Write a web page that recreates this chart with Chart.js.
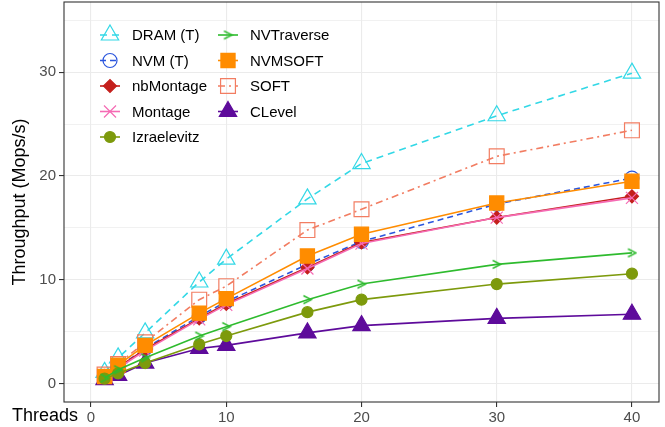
<!DOCTYPE html>
<html>
<head>
<meta charset="utf-8">
<script src="https://cdn.jsdelivr.net/npm/chart.js@4"></script>
<style>
  html, body { margin: 0; padding: 0; background: #fff; }
  #wrap { width: 665px; height: 427px; position: relative; }
</style>
</head>
<body>
<div id="wrap"><canvas id="chart"></canvas></div>
<script>
// data
const threads = [1, 2, 4, 8, 10, 16, 20, 30, 40];
const dramT = [1.1, 2.5, 4.9, 9.8, 12.0, 17.8, 21.2, 25.8, 29.9];
const nvmT = [0.7, 1.6, 3.4, 6.5, 7.9, 11.5, 13.7, 17.3, 19.8];
const nbMontage = [0.7, 1.6, 3.3, 6.3, 7.7, 11.2, 13.6, 16.0, 18.05];
const montage = [0.65, 1.5, 3.2, 6.2, 7.6, 11.1, 13.5, 16.0, 17.9];
const izraelevitz = [0.5, 1.0, 2.0, 3.8, 4.6, 6.9, 8.1, 9.6, 10.6];
const nvTraverse = [0.55, 1.35, 2.5, 4.6, 5.5, 8.1, 9.6, 11.5, 12.6];
const nvmSoft = [0.7, 1.8, 3.7, 6.8, 8.2, 12.3, 14.4, 17.4, 19.5];
const soft = [0.9, 1.9, 4.0, 8.1, 9.4, 14.8, 16.8, 21.9, 24.4];
const cLevel = [0.4, 0.8, 2.0, 3.4, 3.7, 4.9, 5.6, 6.3, 6.7];

const xTicks = [0, 10, 20, 30, 40];
const yTicks = [0, 10, 20, 30];
const yMinor = [5, 15, 25, 35];

// ">" marker for NVTraverse
function chevron(color) {
  const c = document.createElement("canvas");
  c.width = 11;
  c.height = 11;
  const g = c.getContext("2d");
  g.strokeStyle = color;
  g.lineWidth = 1.4;
  g.beginPath();
  g.moveTo(1.5, 1.5);
  g.lineTo(9.5, 5.5);
  g.lineTo(1.5, 9.5);
  g.stroke();
  return c;
}

const none = "rgba(0,0,0,0)";

function series(label, data, color, opts) {
  return Object.assign({
    label: label,
    data: threads.map((t, i) => ({ x: t, y: data[i] })),
    borderColor: color,
    backgroundColor: color,
    borderWidth: 1.6,
    pointBorderColor: color,
    pointBackgroundColor: color,
    pointBorderWidth: 1.2,
    tension: 0,
    fill: false,
  }, opts);
}

const datasets = [
  series("DRAM (T)", dramT, "#33D8E6", { borderDash: [7, 5], pointStyle: "triangle", pointRadius: 10, pointBackgroundColor: none, order: 8 }),
  series("NVM (T)", nvmT, "#2A55DD", { borderDash: [6, 4], pointStyle: "circle", pointRadius: 7, pointBackgroundColor: none, order: 5 }),
  series("nbMontage", nbMontage, "#C41F1C", { pointStyle: "rectRot", pointRadius: 6.5, order: 4 }),
  series("Montage", montage, "#F56BB4", { pointStyle: "crossRot", pointRadius: 8.5, order: 3 }),
  series("Izraelevitz", izraelevitz, "#7D9A0C", { pointStyle: "circle", pointRadius: 5.5, order: 1 }),
  series("NVTraverse", nvTraverse, "#2EBB2E", { pointStyle: chevron("#2EBB2E"), pointRadius: 6, order: 0 }),
  series("NVMSOFT", nvmSoft, "#FF8C00", { pointStyle: "rect", pointRadius: 10, order: 2 }),
  series("SOFT", soft, "#F27D62", { borderDash: [7, 4, 2, 4], pointStyle: "rect", pointRadius: 10.5, pointBackgroundColor: none, order: 6 }),
  series("CLevel", cLevel, "#5E0B9B", { pointStyle: "triangle", pointRadius: 10, order: 7 }),
];

function noPad(s) {
  s.paddingTop = 0;
  s.paddingBottom = 0;
  s.paddingLeft = 0;
  s.paddingRight = 0;
}

// panel border, legend inside the panel, "Threads" label
const extras = {
  id: "extras",
  afterDatasetsDraw(chart) {
    const { ctx, chartArea } = chart;
    ctx.save();
    ctx.strokeStyle = "#333333";
    ctx.lineWidth = 1.1;
    ctx.strokeRect(chartArea.left, chartArea.top, chartArea.right - chartArea.left, chartArea.bottom - chartArea.top);
    ctx.restore();
  },
  afterDraw(chart) {
    const ctx = chart.ctx;
    const cols = [{ gx: 110, tx: 132 }, { gx: 228, tx: 250 }];
    ctx.save();
    chart.data.datasets.forEach((ds, i) => {
      const col = cols[i < 5 ? 0 : 1];
      const row = i < 5 ? i : i - 5;
      const y = 35 + row * 25.5;
      ctx.strokeStyle = ds.borderColor;
      ctx.lineWidth = ds.borderWidth;
      ctx.setLineDash(ds.borderDash || []);
      ctx.beginPath();
      ctx.moveTo(col.gx - 10, y);
      ctx.lineTo(col.gx + 10, y);
      ctx.stroke();
      ctx.setLineDash([]);
      ctx.fillStyle = ds.pointBackgroundColor;
      ctx.strokeStyle = ds.pointBorderColor;
      ctx.lineWidth = ds.pointBorderWidth;
      Chart.helpers.drawPoint(ctx, {
        pointStyle: ds.pointStyle,
        radius: ds.pointRadius,
        rotation: 0,
        borderWidth: ds.pointBorderWidth,
      }, col.gx, y);
      ctx.fillStyle = "#000000";
      ctx.font = "15px 'Liberation Sans', Arial, sans-serif";
      ctx.textBaseline = "middle";
      ctx.textAlign = "left";
      ctx.fillText(ds.label, col.tx, y + 1);
    });
    ctx.fillStyle = "#000000";
    ctx.font = "18px 'Liberation Sans', Arial, sans-serif";
    ctx.textBaseline = "alphabetic";
    ctx.fillText("Threads", 12, 421);
    ctx.restore();
  },
};

new Chart(document.getElementById("chart"), {
  type: "line",
  data: { datasets: datasets },
  options: {
    responsive: true,
    maintainAspectRatio: false,
    animation: false,
    layout: { autoPadding: false, padding: { top: 2, right: 6, left: 0, bottom: 0 } },
    plugins: {
      legend: { display: false },
      tooltip: { enabled: false },
    },
    scales: {
      x: {
        type: "linear",
        min: -2,
        max: 42,
        afterBuildTicks: (s) => { s.ticks = xTicks.map((v) => ({ value: v })); },
        afterFit: (s) => { s.height = 25; noPad(s); },
        border: { display: false },
        grid: { color: "#EBEBEB", lineWidth: 1.1, tickLength: 5, tickColor: "#333333", tickWidth: 1.1 },
        ticks: {
          color: "#4D4D4D",
          padding: 2,
          maxRotation: 0,
          font: { family: "'Liberation Sans', Arial, sans-serif", size: 15 },
        },
      },
      y: {
        type: "linear",
        min: -1.75,
        max: 36.75,
        afterBuildTicks: (s) => {
          s.ticks = yTicks.concat(yMinor).sort((a, b) => a - b).map((v) => ({ value: v }));
        },
        afterFit: (s) => { s.width = 64; noPad(s); },
        border: { display: false },
        grid: {
          color: "#EBEBEB",
          lineWidth: (c) => (yTicks.includes(c.tick.value) ? 1.1 : 0.7),
          tickLength: 5,
          tickWidth: 1.1,
          tickColor: (c) => (yTicks.includes(c.tick.value) ? "#333333" : none),
        },
        ticks: {
          color: "#4D4D4D",
          padding: 3,
          font: { family: "'Liberation Sans', Arial, sans-serif", size: 15 },
          callback: (v) => (yTicks.includes(v) ? String(v) : ""),
        },
        title: {
          display: true,
          text: "Throughput (Mops/s)",
          color: "#000000",
          font: { family: "'Liberation Sans', Arial, sans-serif", size: 18 },
          padding: { top: 9, bottom: 0 },
        },
      },
    },
  },
  plugins: [extras],
});
</script>
</body>
</html>
